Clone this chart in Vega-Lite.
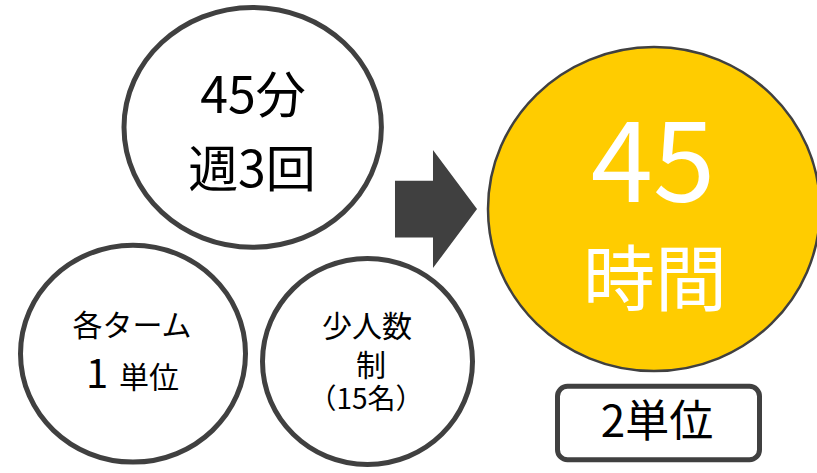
{
  "$schema": "https://vega.github.io/schema/vega-lite/v6.json",
  "width": 817,
  "height": 473,
  "autosize": {"type": "fit", "contains": "padding"},
  "padding": 0,
  "background": "white",
  "config": {"view": {"stroke": null}},
  "encoding": {
    "x": {"field": "x", "type": "quantitative", "scale": {"domain": [0, 817], "nice": false, "zero": false}, "axis": null},
    "y": {"field": "y", "type": "quantitative", "scale": {"domain": [0, 473], "nice": false, "zero": false, "reverse": true}, "axis": null}
  },
  "layer": [
    {
      "data": {"values": [{"item": "45分 週3回", "x": 252.7, "y": 127.3}]},
      "mark": {"type": "point", "filled": true, "fill": "white", "stroke": "#404040", "strokeWidth": 5, "opacity": 1, "size": 66254, "shape": "M-1,0A1,0.932,0,1,1,1,0A1,0.932,0,1,1,-1,0Z"}
    },
    {
      "data": {"values": [{"item": "各ターム 1単位", "x": 133, "y": 359}]},
      "mark": {"type": "point", "filled": true, "fill": "white", "stroke": "#404040", "strokeWidth": 5, "opacity": 1, "size": 50625, "shape": "M-1,0A1,0.964,0,1,1,1,0A1,0.964,0,1,1,-1,0Z"}
    },
    {
      "data": {"values": [{"item": "少人数制", "x": 367.5, "y": 367}]},
      "mark": {"type": "point", "filled": true, "fill": "white", "stroke": "#404040", "strokeWidth": 5, "opacity": 1, "size": 44100, "shape": "M-1,0A1,0.981,0,1,1,1,0A1,0.981,0,1,1,-1,0Z"}
    },
    {
      "data": {"values": [{"item": "矢印", "x": 436, "y": 211}]},
      "mark": {"type": "point", "filled": true, "fill": "#404040", "strokeWidth": 0, "opacity": 1, "size": 13924, "shape": "M-0.695,-0.48L-0.051,-0.48L-0.051,-1L0.695,0L-0.051,1L-0.051,0.48L-0.695,0.48Z"}
    },
    {
      "data": {"values": [{"item": "45時間", "x": 654, "y": 211}]},
      "mark": {"type": "point", "filled": true, "fill": "#FFCC00", "stroke": "#404040", "strokeWidth": 2.5, "opacity": 1, "clip": true, "size": 110224, "shape": "M-1,0A1,0.976,0,1,1,1,0A1,0.976,0,1,1,-1,0Z"}
    },
    {
      "data": {"values": [{"item": "2単位", "x": 557.5, "x2": 759.5, "y": 392.5, "y2": 467.5}]},
      "mark": {"type": "rect", "fill": "white", "stroke": "#404040", "strokeWidth": 5, "cornerRadius": 10},
      "encoding": {"x2": {"field": "x2"}, "y2": {"field": "y2"}}
    },
    {
      "data": {"values": [{"label": "45分", "x": 253, "y": 97}, {"label": "週3回", "x": 252, "y": 173}]},
      "mark": {"type": "text", "font": "Noto Sans CJK JP", "fontSize": 50, "color": "#000000", "baseline": "middle", "align": "center"},
      "encoding": {"text": {"field": "label"}}
    },
    {
      "data": {"values": [{"label": "45", "x": 653, "y": 169}]},
      "mark": {"type": "text", "font": "Noto Sans CJK JP", "fontSize": 112, "color": "#FFFFFF", "baseline": "middle", "align": "center"},
      "encoding": {"text": {"field": "label"}}
    },
    {
      "data": {"values": [{"label": "時間", "x": 655, "y": 287}]},
      "mark": {"type": "text", "font": "Noto Sans CJK JP", "fontSize": 72, "color": "#FFFFFF", "baseline": "middle", "align": "center"},
      "encoding": {"text": {"field": "label"}}
    },
    {
      "data": {"values": [{"label": "各ターム", "x": 132, "y": 332}, {"label": "単位", "x": 149, "y": 385}, {"label": "少人数", "x": 367, "y": 333}, {"label": "制", "x": 371, "y": 373}]},
      "mark": {"type": "text", "font": "Noto Sans CJK JP", "fontSize": 30, "color": "#000000", "baseline": "middle", "align": "center"},
      "encoding": {"text": {"field": "label"}}
    },
    {
      "data": {"values": [{"label": "1", "x": 97, "y": 382}]},
      "mark": {"type": "text", "font": "Noto Sans CJK JP", "fontSize": 40, "color": "#000000", "baseline": "middle", "align": "center"},
      "encoding": {"text": {"field": "label"}}
    },
    {
      "data": {"values": [{"label": "（15名）", "x": 366, "y": 407}]},
      "mark": {"type": "text", "font": "Noto Sans CJK JP", "fontSize": 28, "color": "#000000", "baseline": "middle", "align": "center"},
      "encoding": {"text": {"field": "label"}}
    },
    {
      "data": {"values": [{"label": "2単位", "x": 657, "y": 431}]},
      "mark": {"type": "text", "font": "Noto Sans CJK JP", "fontSize": 44, "color": "#000000", "baseline": "middle", "align": "center"},
      "encoding": {"text": {"field": "label"}}
    }
  ]
}
